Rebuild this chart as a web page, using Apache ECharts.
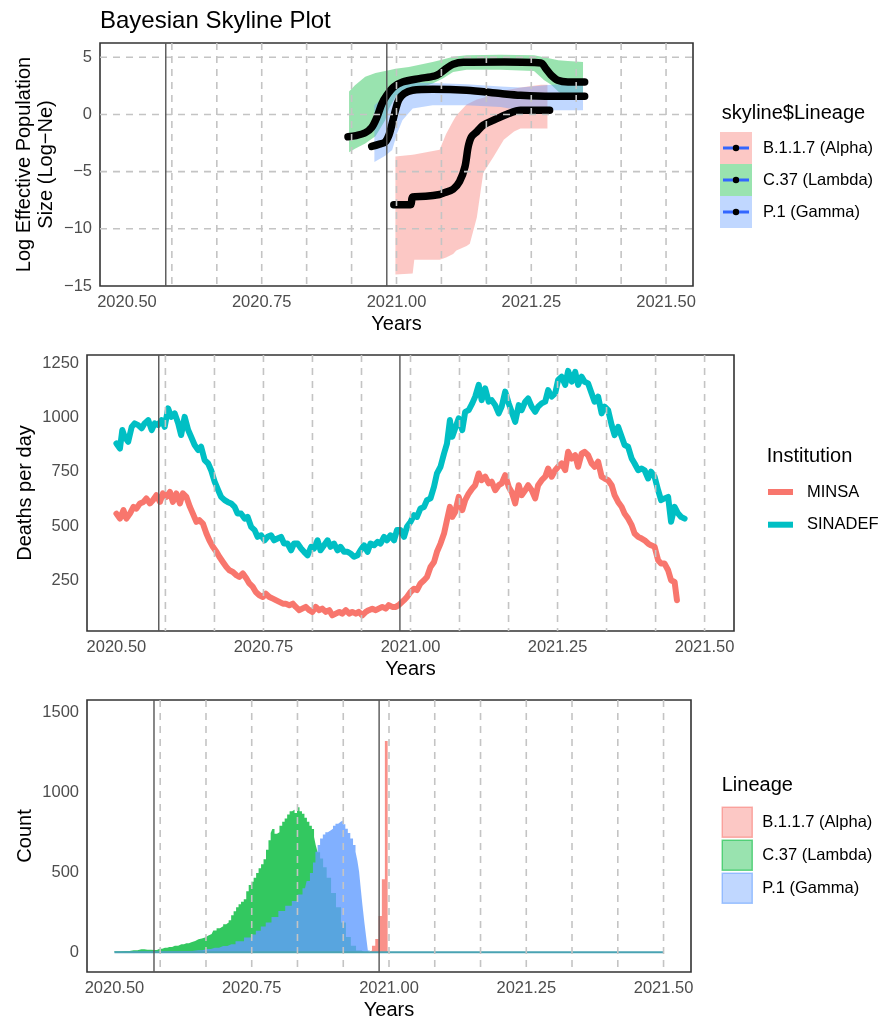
<!DOCTYPE html>
<html>
<head>
<meta charset="utf-8">
<script src="https://cdn.jsdelivr.net/npm/echarts@6/dist/echarts.min.js"></script>
<style>
html,body{margin:0;padding:0;background:#fff;}
#chart{width:891px;height:1021px;}
</style>
</head>
<body>
<div id="chart"></div>
<script>
// ---------------- DATA ----------------
const lineages = ['B.1.1.7 (Alpha)', 'C.37 (Lambda)', 'P.1 (Gamma)'];
const institutions = ['MINSA', 'SINADEF'];
const xTicks = [2020.5, 2020.75, 2021.0, 2021.25, 2021.5];
const skyTicks = [-15, -10, -5, 0, 5];
const deathTicks = [250, 500, 750, 1000, 1250];
const countTicks = [0, 500, 1000, 1500];
const monthLines = [2020.5833, 2020.6667, 2020.75, 2020.8333, 2020.9167, 2021.0, 2021.0833, 2021.1667, 2021.25, 2021.3333, 2021.4167, 2021.5];
const eventLines = [2020.572, 2020.982];
const skyHLines = [5, 0, -5, -10];

// Skyline medians [year, log Ne]
const alphaMedian = [[2020.995,-7.9],[2021.026,-7.9],[2021.030,-7.2],[2021.054,-7.15],[2021.080,-7.0],[2021.086,-6.89],[2021.105,-6.54],[2021.117,-5.87],[2021.127,-4.57],[2021.133,-2.82],[2021.139,-1.95],[2021.149,-1.51],[2021.161,-0.93],[2021.180,-0.5],[2021.205,0.02],[2021.230,0.37],[2021.284,0.37]];
const lambdaMedian = [[2020.910,-1.95],[2020.925,-1.85],[2020.942,-1.6],[2020.954,-1.14],[2020.964,-0.21],[2020.973,0.95],[2020.982,1.68],[2020.995,2.41],[2021.011,2.84],[2021.042,3.14],[2021.070,3.35],[2021.080,3.57],[2021.092,4.01],[2021.105,4.39],[2021.124,4.56],[2021.200,4.58],[2021.268,4.5],[2021.277,4.01],[2021.287,3.43],[2021.299,2.99],[2021.318,2.84],[2021.349,2.84]];
const gammaMedian = [[2020.954,-2.79],[2020.967,-2.61],[2020.979,-2.4],[2020.986,-1.8],[2020.992,-0.79],[2020.998,0.37],[2021.0045,1.31],[2021.014,1.83],[2021.030,2.12],[2021.067,2.21],[2021.130,2.12],[2021.193,1.83],[2021.230,1.68],[2021.287,1.59],[2021.349,1.59]];

// Skyline 95% bands [year, lower, upper]
const alphaBand = [[2020.998,-14.0,-3.67],[2021.030,-13.9,-3.52],[2021.033,-12.7,-3.5],[2021.080,-12.7,-3.08],[2021.092,-12.5,-1.7],[2021.105,-12.2,-0.57],[2021.111,-11.9,-0.1],[2021.130,-11.5,0.88],[2021.136,-11.3,1.0],[2021.149,-9.0,1.3],[2021.161,-5.1,1.47],[2021.180,-3.7,1.8],[2021.199,-2.2,2.1],[2021.218,-1.5,2.25],[2021.230,-1.22,2.35],[2021.268,-1.22,2.6],[2021.280,-1.22,2.6]];
const lambdaBand = [[2020.912,-3.3,2.0],[2020.923,-3.0,2.55],[2020.942,-2.53,3.3],[2020.961,-1.9,3.63],[2020.979,-0.5,3.8],[2020.986,0.5,3.86],[2020.998,1.53,4.0],[2021.023,2.0,4.15],[2021.067,2.7,4.59],[2021.086,3.14,4.8],[2021.105,3.72,5.05],[2021.130,3.92,5.17],[2021.193,3.92,5.23],[2021.255,3.8,5.17],[2021.274,3.0,5.0],[2021.287,2.6,4.88],[2021.300,2.0,4.75],[2021.318,1.4,4.68],[2021.346,1.3,4.59]];
const gammaBand = [[2020.959,-4.15,0.8],[2020.979,-3.6,1.6],[2020.992,-3.1,2.1],[2021.001,-1.66,2.5],[2021.011,-0.5,2.7],[2021.030,0.52,2.8],[2021.067,0.8,2.75],[2021.130,0.8,2.65],[2021.193,0.65,2.45],[2021.230,0.37,2.35],[2021.287,0.37,2.6],[2021.346,0.37,2.7]];

// Deaths per day [year, deaths]
const minsaDeaths = [[2020.500,557],[2020.506,534],[2020.512,573],[2020.517,534],[2020.523,557],[2020.529,588],[2020.534,580],[2020.540,604],[2020.546,611],[2020.551,627],[2020.557,604],[2020.562,619],[2020.568,642],[2020.574,611],[2020.579,650],[2020.585,634],[2020.591,657],[2020.596,611],[2020.602,650],[2020.608,604],[2020.613,650],[2020.619,634],[2020.625,588],[2020.630,557],[2020.636,519],[2020.641,527],[2020.647,511],[2020.653,465],[2020.658,434],[2020.664,404],[2020.670,381],[2020.675,358],[2020.681,334],[2020.687,311],[2020.692,296],[2020.698,288],[2020.704,273],[2020.709,265],[2020.715,281],[2020.721,258],[2020.726,235],[2020.732,219],[2020.737,196],[2020.743,181],[2020.749,173],[2020.754,188],[2020.760,173],[2020.766,165],[2020.771,158],[2020.777,150],[2020.783,142],[2020.788,142],[2020.794,135],[2020.800,142],[2020.805,127],[2020.811,112],[2020.816,119],[2020.822,127],[2020.828,112],[2020.833,104],[2020.839,127],[2020.845,112],[2020.850,119],[2020.856,104],[2020.862,112],[2020.867,88],[2020.873,96],[2020.879,104],[2020.884,96],[2020.890,112],[2020.896,96],[2020.901,104],[2020.907,96],[2020.912,104],[2020.918,88],[2020.924,104],[2020.929,112],[2020.935,119],[2020.941,112],[2020.946,119],[2020.952,127],[2020.958,119],[2020.963,135],[2020.969,127],[2020.975,127],[2020.980,135],
[2020.983,142],[2020.989,158],[2020.994,173],[2021.000,196],[2021.006,211],[2021.011,204],[2021.017,235],[2021.023,250],[2021.028,265],[2021.034,311],[2021.040,334],[2021.045,381],[2021.051,419],[2021.057,465],[2021.062,527],[2021.067,588],[2021.071,542],[2021.076,565],[2021.082,634],[2021.088,573],[2021.093,619],[2021.099,650],[2021.105,673],[2021.110,688],[2021.116,742],[2021.121,711],[2021.127,727],[2021.133,696],[2021.138,704],[2021.144,665],[2021.150,688],[2021.155,696],[2021.161,734],[2021.167,680],[2021.172,657],[2021.178,604],[2021.184,688],[2021.189,642],[2021.195,665],[2021.200,688],[2021.206,665],[2021.212,627],[2021.217,688],[2021.223,711],[2021.229,727],[2021.234,765],[2021.240,727],[2021.246,757],[2021.251,773],[2021.257,788],[2021.263,757],[2021.268,842],[2021.274,811],[2021.280,826],[2021.285,773],[2021.291,834],[2021.296,842],[2021.302,826],[2021.308,788],[2021.313,773],[2021.319,796],[2021.325,727],[2021.330,719],[2021.336,711],[2021.342,688],[2021.347,642],[2021.353,611],[2021.359,588],[2021.364,557],[2021.370,534],[2021.376,504],[2021.381,465],[2021.387,450],[2021.393,442],[2021.398,434],[2021.404,419],[2021.409,411],[2021.415,404],[2021.421,342],[2021.426,327],[2021.432,327],[2021.438,296],[2021.443,250],[2021.449,242],[2021.453,158]];
const sinadefDeaths = [[2020.500,880],[2020.506,857],[2020.510,942],[2020.514,911],[2020.520,888],[2020.526,957],[2020.531,973],[2020.537,965],[2020.543,950],[2020.548,973],[2020.554,988],[2020.560,942],[2020.565,973],[2020.571,965],[2020.577,988],[2020.582,957],[2020.588,1042],[2020.593,1003],[2020.599,1019],[2020.605,973],[2020.610,919],[2020.616,1003],[2020.622,942],[2020.627,911],[2020.633,873],[2020.639,850],[2020.644,865],[2020.650,804],[2020.656,788],[2020.661,757],[2020.667,704],[2020.673,665],[2020.678,634],[2020.684,619],[2020.689,611],[2020.695,604],[2020.701,588],[2020.706,557],[2020.712,557],[2020.718,534],[2020.723,542],[2020.729,496],[2020.735,481],[2020.740,450],[2020.746,457],[2020.752,434],[2020.757,450],[2020.763,457],[2020.768,434],[2020.774,442],[2020.780,450],[2020.785,419],[2020.791,419],[2020.797,388],[2020.802,419],[2020.808,419],[2020.814,396],[2020.819,381],[2020.825,365],[2020.831,404],[2020.836,396],[2020.842,434],[2020.847,388],[2020.853,411],[2020.859,434],[2020.864,404],[2020.870,419],[2020.876,388],[2020.881,404],[2020.887,381],[2020.893,381],[2020.898,373],[2020.904,358],[2020.910,365],[2020.915,388],[2020.921,411],[2020.927,381],[2020.932,419],[2020.938,411],[2020.944,427],[2020.949,419],[2020.955,450],[2020.960,434],[2020.966,457],[2020.972,434],[2020.977,481],
[2020.983,481],[2020.989,450],[2020.994,496],[2021.000,519],[2021.006,550],[2021.011,542],[2021.017,581],[2021.023,588],[2021.028,619],[2021.034,627],[2021.040,681],[2021.045,742],[2021.051,773],[2021.057,834],[2021.062,880],[2021.067,988],[2021.071,911],[2021.076,950],[2021.082,996],[2021.088,942],[2021.093,1026],[2021.099,1034],[2021.105,1065],[2021.110,1096],[2021.116,1150],[2021.121,1080],[2021.127,1134],[2021.133,1073],[2021.138,1080],[2021.144,1057],[2021.150,1019],[2021.155,1050],[2021.161,1119],[2021.167,1065],[2021.172,1026],[2021.178,980],[2021.184,1057],[2021.189,1034],[2021.195,1073],[2021.200,1088],[2021.206,1050],[2021.212,1026],[2021.217,1050],[2021.223,1065],[2021.229,1073],[2021.234,1126],[2021.240,1096],[2021.246,1111],[2021.251,1173],[2021.257,1188],[2021.263,1150],[2021.268,1215],[2021.274,1165],[2021.280,1210],[2021.285,1150],[2021.291,1188],[2021.296,1165],[2021.302,1157],[2021.308,1111],[2021.313,1073],[2021.319,1096],[2021.325,1019],[2021.330,1050],[2021.336,1034],[2021.342,965],[2021.347,919],[2021.353,957],[2021.359,911],[2021.364,873],[2021.370,865],[2021.376,811],[2021.381,788],[2021.387,757],[2021.393,765],[2021.398,757],[2021.404,719],[2021.409,750],[2021.415,727],[2021.421,665],[2021.426,619],[2021.432,627],[2021.438,634],[2021.443,519],[2021.449,588],[2021.455,557],[2021.460,542],[2021.466,534]];

// Histogram counts [year, count]
const lambdaCounts = [[2020.500,5],[2020.520,8],[2020.535,12],[2020.549,18],[2020.560,15],[2020.573,14],[2020.582,22],[2020.592,28],[2020.600,33],[2020.610,40],[2020.622,49],[2020.631,55],[2020.640,62],[2020.647,70],[2020.653,80],[2020.659,86],[2020.665,92],[2020.671,104],[2020.677,113],[2020.683,135],[2020.689,150],[2020.695,162],[2020.701,175],[2020.706,185],[2020.710,200],[2020.715,230],[2020.719,255],[2020.724,280],[2020.728,300],[2020.733,315],[2020.738,330],[2020.742,380],[2020.747,420],[2020.751,440],[2020.756,465],[2020.760,495],[2020.765,525],[2020.769,550],[2020.774,580],[2020.778,640],[2020.783,700],[2020.786,745],[2020.789,770],[2020.794,740],[2020.798,750],[2020.803,790],[2020.808,815],[2020.812,835],[2020.817,860],[2020.821,880],[2020.826,890],[2020.830,870],[2020.835,905],[2020.839,880],[2020.844,865],[2020.848,840],[2020.853,815],[2020.857,790],[2020.862,770],[2020.865,720],[2020.868,670],[2020.872,625],[2020.877,585],[2020.883,530],[2020.890,465],[2020.899,370],[2020.908,280],[2020.917,185],[2020.926,95],[2020.935,40],[2020.945,10],[2020.955,0]];
const gammaCounts = [[2020.500,2],[2020.560,4],[2020.600,5],[2020.630,8],[2020.653,12],[2020.668,20],[2020.683,28],[2020.698,38],[2020.713,50],[2020.728,68],[2020.744,92],[2020.753,110],[2020.762,134],[2020.771,160],[2020.780,185],[2020.792,220],[2020.805,257],[2020.817,290],[2020.829,320],[2020.838,360],[2020.847,400],[2020.853,445],[2020.859,495],[2020.864,560],[2020.868,628],[2020.872,670],[2020.877,710],[2020.882,735],[2020.886,750],[2020.891,760],[2020.896,772],[2020.900,790],[2020.905,803],[2020.910,815],[2020.914,823],[2020.918,800],[2020.923,772],[2020.927,745],[2020.932,710],[2020.937,670],[2020.941,628],[2020.944,570],[2020.947,504],[2020.950,400],[2020.953,298],[2020.957,190],[2020.960,92],[2020.963,10],[2020.968,0]];
const alphaCounts = [[2020.963,0],[2020.966,10],[2020.972,40],[2020.978,82],[2020.984,226],[2020.990,455],[2020.995,1320],[2021.000,0]];
const baselineRange = [[2020.5,0],[2021.5,0]];

// ---------------- STYLE ----------------
const FONT = 'Liberation Sans, Arial, Helvetica, sans-serif';
const C_ALPHA = '#F8766D', C_LAMBDA = '#00BA38', C_GAMMA = '#619CFF';
const rgba = (hex, a) => {
  const n = parseInt(hex.slice(1), 16);
  return 'rgba(' + (n >> 16 & 255) + ',' + (n >> 8 & 255) + ',' + (n & 255) + ',' + a + ')';
};
const minus = v => (v < 0 ? '\u2212' + Math.abs(v) : String(v));

const chart = echarts.init(document.getElementById('chart'));

const grids = [
  {left: 100, top: 43, width: 593, height: 243},
  {left: 87, top: 355, width: 647, height: 276},
  {left: 87, top: 700, width: 604, height: 275}
].map(g => Object.assign(g, {show: true, borderColor: '#333', borderWidth: 1.6, backgroundColor: '#fff', containLabel: false}));

function xAxisFor(i) {
  return {
    type: 'value', gridIndex: i, min: 2020.45, max: 2021.55,
    axisLine: {show: false}, axisTick: {show: false}, splitLine: {show: false},
    axisLabel: {customValues: xTicks, formatter: v => v.toFixed(2), color: '#4D4D4D', fontSize: 16.5, fontFamily: FONT, margin: 8},
    name: 'Years', nameLocation: 'middle', nameGap: 28,
    nameTextStyle: {color: '#000', fontSize: 20, fontFamily: FONT}
  };
}
function yAxisFor(i, min, max, ticks, name, gap, fmt) {
  return {
    type: 'value', gridIndex: i, min, max,
    axisLine: {show: false}, axisTick: {show: false}, splitLine: {show: false},
    axisLabel: {customValues: ticks, formatter: fmt || (v => String(v)), color: '#4D4D4D', fontSize: 16.5, fontFamily: FONT, margin: 8},
    name, nameLocation: 'middle', nameGap: gap, nameMoveOverlap: false,
    nameTextStyle: {color: '#000', fontSize: 20, fontFamily: FONT, lineHeight: 22, align: 'center'}
  };
}

function vlines(i, values, style, z) {
  return {
    type: 'custom', xAxisIndex: i, yAxisIndex: i, z, silent: true,
    data: values.map(v => [v, 0]),
    renderItem: (params, api) => {
      const cs = params.coordSys;
      const x = api.coord([api.value(0), 0])[0];
      return {type: 'line', shape: {x1: x, y1: cs.y, x2: x, y2: cs.y + cs.height}, style};
    }
  };
}
function hlines(i, values, style, z) {
  return {
    type: 'custom', xAxisIndex: i, yAxisIndex: i, z, silent: true,
    data: values.map(v => [2021, v]),
    renderItem: (params, api) => {
      const cs = params.coordSys;
      const y = api.coord([2021, api.value(1)])[1];
      return {type: 'line', shape: {x1: cs.x, y1: y, x2: cs.x + cs.width, y2: y}, style};
    }
  };
}
function ribbon(name, rows, color) {
  return {
    type: 'custom', name, xAxisIndex: 0, yAxisIndex: 0, z: 2, silent: true,
    itemStyle: {color},
    data: rows,
    encode: {x: 0, y: [1, 2]},
    renderItem: (params, api) => {
      if (params.dataIndex !== 0) return null;
      const top = rows.map(r => api.coord([r[0], r[2]]));
      const bot = rows.map(r => api.coord([r[0], r[1]])).reverse();
      return {type: 'polygon', shape: {points: top.concat(bot)}, style: {fill: color}};
    }
  };
}
function median(name, data) {
  return {
    type: 'line', name, xAxisIndex: 0, yAxisIndex: 0, z: 4, data,
    showSymbol: false, silent: true, smooth: 0.3,
    lineStyle: {color: '#000', width: 7.5, cap: 'round', join: 'round'}
  };
}
function hist(name, data, color) {
  return {
    type: 'line', name, xAxisIndex: 2, yAxisIndex: 2, z: 3, data, step: 'middle',
    showSymbol: false, silent: true,
    lineStyle: {width: 0}, itemStyle: {color},
    areaStyle: {color, opacity: 1, origin: 0}
  };
}

const dashStyle = {stroke: '#C4C4C4', lineWidth: 1.6, lineDash: [7, 6]};
const solidStyle = {stroke: '#555', lineWidth: 1.4};

const series = [
  // panel 1
  ribbon(lineages[0], alphaBand, rgba(C_ALPHA, 0.4)),
  ribbon(lineages[1], lambdaBand, rgba(C_LAMBDA, 0.4)),
  ribbon(lineages[2], gammaBand, rgba(C_GAMMA, 0.4)),
  median('alpha median', alphaMedian),
  median('lambda median', lambdaMedian),
  median('gamma median', gammaMedian),
  hlines(0, skyHLines, dashStyle, 8),
  vlines(0, monthLines, dashStyle, 8),
  vlines(0, eventLines, solidStyle, 9),
  // panel 2
  {type: 'line', name: institutions[0], xAxisIndex: 1, yAxisIndex: 1, z: 3, data: minsaDeaths, showSymbol: false, silent: true,
   itemStyle: {color: '#F8766D'}, lineStyle: {color: '#F8766D', width: 6, join: 'round', cap: 'round'}},
  {type: 'line', name: institutions[1], xAxisIndex: 1, yAxisIndex: 1, z: 3, data: sinadefDeaths, showSymbol: false, silent: true,
   itemStyle: {color: '#00BFC4'}, lineStyle: {color: '#00BFC4', width: 6, join: 'round', cap: 'round'}},
  vlines(1, monthLines, dashStyle, 8),
  vlines(1, eventLines, solidStyle, 9),
  // panel 3
  hist(lineages[1], lambdaCounts, rgba(C_LAMBDA, 0.8)),
  hist(lineages[2], gammaCounts, rgba(C_GAMMA, 0.8)),
  hist(lineages[0], alphaCounts, rgba(C_ALPHA, 0.8)),
  {type: 'line', name: 'baseline', xAxisIndex: 2, yAxisIndex: 2, z: 4, data: baselineRange, showSymbol: false, silent: true,
   lineStyle: {color: '#4AA3B3', width: 2}},
  vlines(2, monthLines, dashStyle, 8),
  vlines(2, eventLines, solidStyle, 9)
];

const legendText = {color: '#000', fontSize: 16.5, fontFamily: FONT, padding: [0, 0, 0, 6]};
const pad = (o) => Object.assign({orient: 'vertical', padding: 0, selectedMode: false, itemGap: 0}, o);
const lineIcon = 'path://M0,0h0.01v0.01h-0.01z M31.99,31.99h0.01v0.01h-0.01z M3,14.5h26v3h-26z';
const dotIcon = 'path://M0,0h0.01v0.01h-0.01z M31.99,31.99h0.01v0.01h-0.01z M12.8,16a3.2,3.2 0 1,0 6.4,0a3.2,3.2 0 1,0 -6.4,0z';
const bandColors = [C_ALPHA, C_LAMBDA, C_GAMMA];

const legends = [
  pad({left: 720, top: 132, itemWidth: 32, itemHeight: 32,
    textStyle: Object.assign({lineHeight: 32}, legendText),
    data: lineages.map((n, k) => ({name: n, icon: 'rect', itemStyle: {color: rgba(bandColors[k], 0.4), borderWidth: 0}}))}),
  pad({left: 720, top: 132, itemWidth: 32, itemHeight: 32,
    textStyle: Object.assign({lineHeight: 32}, legendText, {color: 'rgba(0,0,0,0)'}),
    data: lineages.map(n => ({name: n, icon: lineIcon, itemStyle: {color: '#3366FF', borderWidth: 0}}))}),
  pad({left: 720, top: 132, itemWidth: 32, itemHeight: 32,
    textStyle: Object.assign({lineHeight: 32}, legendText, {color: 'rgba(0,0,0,0)'}),
    data: lineages.map(n => ({name: n, icon: dotIcon, itemStyle: {color: '#000', borderWidth: 0}}))}),
  pad({left: 768, top: 476, itemWidth: 25, itemHeight: 6, itemGap: 0.7,
    textStyle: Object.assign({}, legendText, {lineHeight: 32, padding: [0, 0, 0, 9]}),
    data: [{name: 'MINSA', icon: 'rect', itemStyle: {color: '#F8766D'}}, {name: 'SINADEF', icon: 'rect', itemStyle: {color: '#00BFC4'}}]}),
  pad({left: 721.5, top: 806.5, itemWidth: 30, itemHeight: 30, itemGap: 1.5,
    textStyle: Object.assign({lineHeight: 30}, legendText, {padding: [0, 0, 0, 5]}),
    data: lineages.map((n, k) => ({name: n, icon: 'rect', itemStyle: {color: rgba(bandColors[k], 0.4), borderColor: rgba(bandColors[k], 0.55), borderWidth: 1.5}}))})
];

const txt = (text, x, y, size) => ({type: 'text', x, y, silent: true,
  style: {text, font: size + 'px ' + FONT, fill: '#000', textVerticalAlign: 'middle', textAlign: 'left'}});

chart.setOption({
  animation: false,
  backgroundColor: '#fff',
  grid: grids,
  xAxis: [xAxisFor(0), xAxisFor(1), xAxisFor(2)],
  yAxis: [
    yAxisFor(0, -15, 6.25, skyTicks, 'Log Effective Population\nSize (Log\u2212Ne)', 43, minus),
    yAxisFor(1, 16, 1288, deathTicks, 'Deaths per day', 51),
    yAxisFor(2, -124, 1576, countTicks, 'Count', 51)
  ],
  legend: legends,
  series,
  graphic: [
    txt('Bayesian Skyline Plot', 100, 21, 24),
    txt('skyline$Lineage', 721.7, 113.3, 20),
    txt('Institution', 766.7, 456.7, 20),
    txt('Lineage', 721.7, 785, 20)
  ]
});
</script>
</body>
</html>
